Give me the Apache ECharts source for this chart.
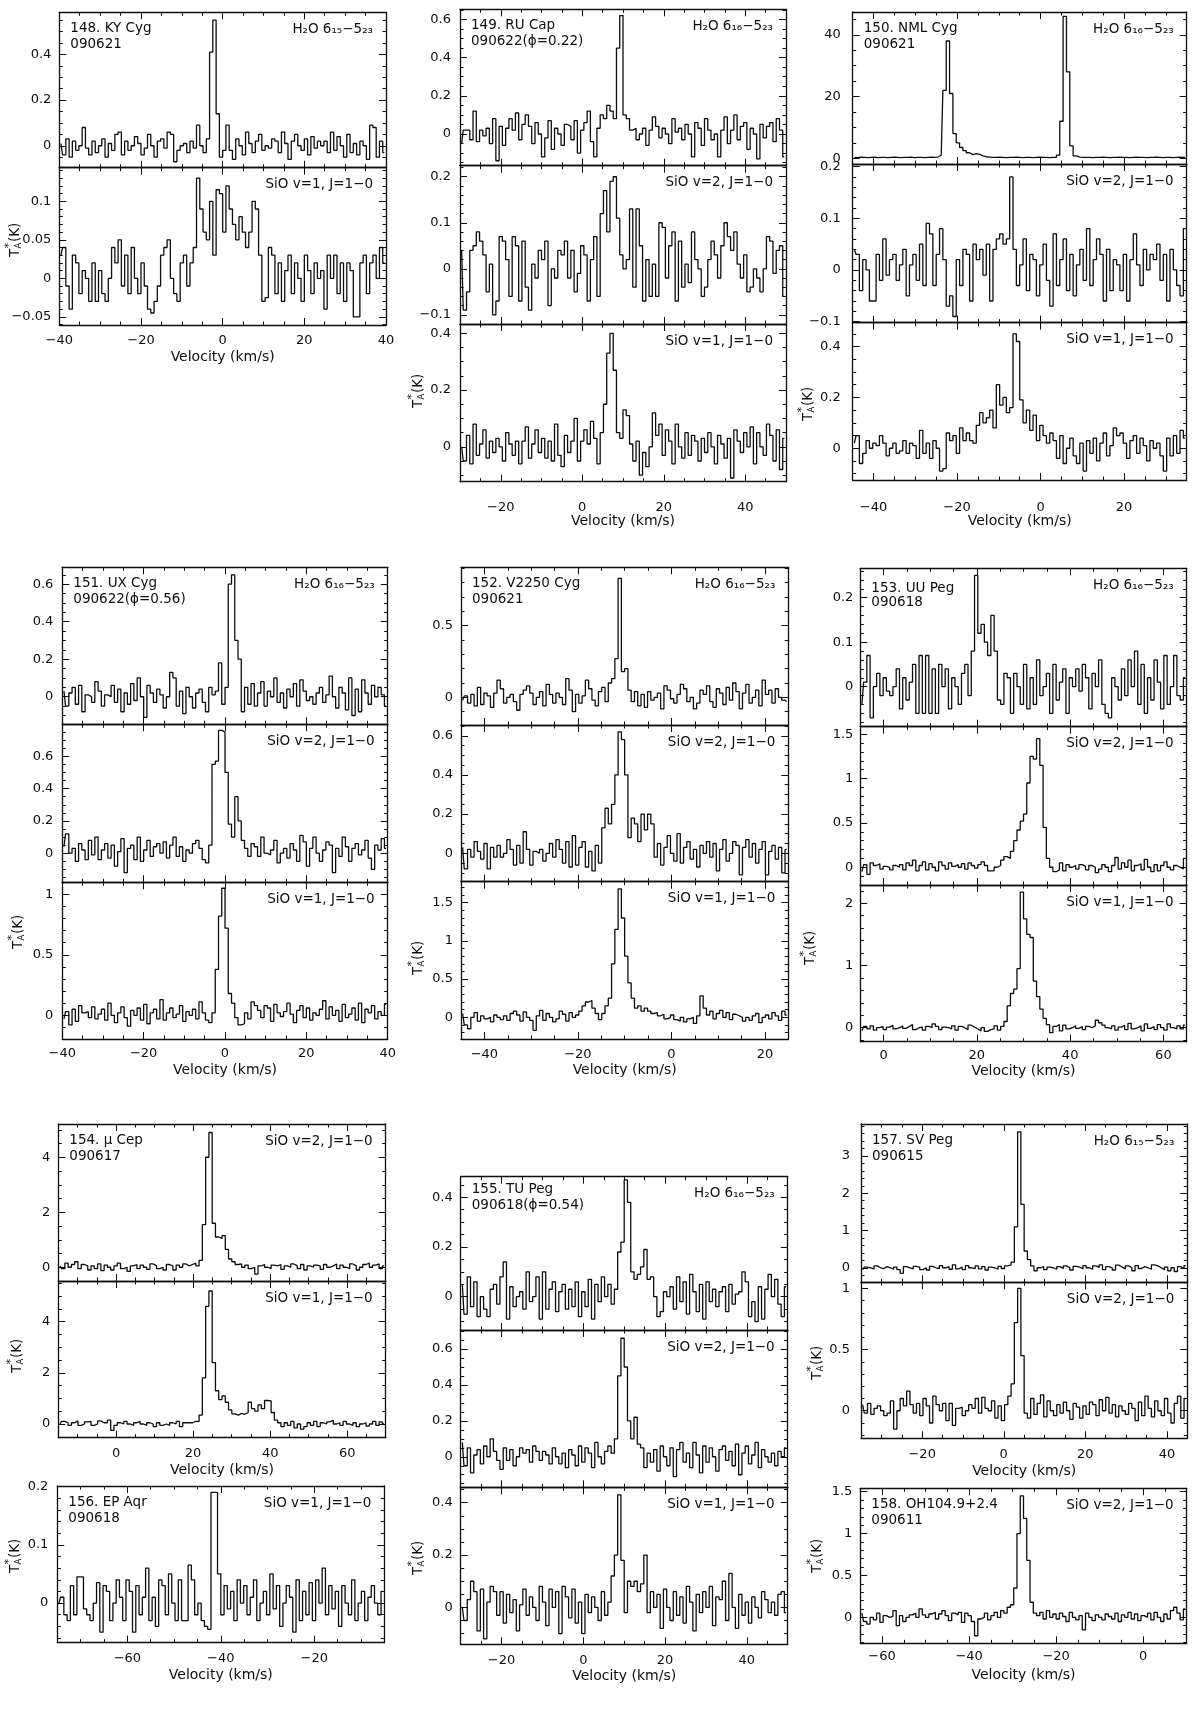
<!DOCTYPE html>
<html><head><meta charset="utf-8">
<script src="https://cdn.jsdelivr.net/npm/echarts@6/dist/echarts.min.js"></script>
<style>html,body{margin:0;padding:0;background:#fff}#c{width:1200px;height:1709px}</style>
</head><body><div id="c"></div>
<script>
// ---------- channel grids: [first channel edge (km/s), channel width (km/s)] ----------
const ch148=[-40,0.8], ch149=[-30,0.8], ch150=[-45,0.8], ch151=[-40,0.8], ch152=[-45,0.7], ch153=[-5,0.7];
const ch154=[-15,0.85], ch155=[-30,0.8], ch156=[-75,0.7], ch157=[-35,0.8], ch158=[-65,0.75];

// ---------- spectra (T_A* in K) ----------
const s148_h2o=[0.01,-0.04,0.03,-0.05,0.02,-0.02,0.00,0.08,-0.01,-0.04,0.02,-0.03,0.00,0.03,-0.05,0.01,-0.02,0.05,0.06,-0.04,0.02,-0.02,0.00,0.04,0.01,-0.04,-0.01,0.05,0.00,-0.05,0.02,0.03,-0.01,0.06,0.05,-0.07,-0.02,0.00,0.01,-0.03,0.02,-0.01,0.09,0.00,-0.03,0.03,0.41,0.55,0.14,-0.05,-0.02,0.09,-0.02,-0.06,0.03,0.00,-0.04,0.06,0.01,-0.03,0.02,0.05,-0.02,0.00,-0.01,0.03,0.02,-0.03,0.06,0.01,-0.06,0.02,0.05,0.00,-0.02,0.03,-0.04,0.04,-0.01,0.02,0.00,0.02,-0.03,0.06,-0.02,0.04,0.00,-0.05,0.05,-0.03,0.01,-0.04,0.02,0.00,-0.06,0.09,0.08,-0.05,0.02,-0.03];
const s148_v1=[0.03,0.04,-0.01,-0.04,0.03,0.02,-0.02,0.01,0.00,-0.03,0.02,-0.03,0.01,-0.02,-0.03,0.00,0.04,0.02,0.05,-0.01,0.03,-0.02,0.04,0.00,-0.02,0.02,-0.01,-0.04,-0.045,-0.03,-0.01,0.03,0.04,0.05,0.00,-0.02,-0.03,0.02,0.03,-0.01,0.02,0.04,0.13,0.09,0.06,0.05,0.10,0.03,0.115,0.11,0.06,0.12,0.09,0.07,0.05,0.08,0.06,0.04,0.06,0.10,0.09,0.03,-0.03,-0.025,0.04,0.03,-0.02,0.02,-0.03,0.01,0.03,-0.02,0.02,0.00,-0.03,0.03,0.01,-0.02,0.02,0.00,0.01,-0.04,0.03,0.00,0.03,-0.02,0.02,-0.03,0.02,0.01,-0.05,-0.05,0.02,0.03,-0.02,0.02,0.03,0.00,0.04,0.02];
const s149_h2o=[-0.05,0.02,0.02,-0.03,0.12,-0.04,0.02,-0.01,0.03,-0.05,0.08,-0.14,0.04,-0.06,0.03,0.08,0.02,0.11,-0.03,0.05,0.10,0.04,-0.05,0.06,0.00,-0.12,-0.02,0.07,-0.08,0.03,0.00,-0.06,0.05,0.04,-0.03,0.07,-0.10,0.02,0.06,0.12,-0.04,-0.12,0.03,0.10,0.08,0.15,0.12,0.08,0.45,0.62,0.10,0.08,0.02,0.03,-0.03,0.00,0.03,-0.06,0.02,0.09,0.04,-0.02,0.03,0.00,-0.05,0.08,0.01,0.03,-0.03,0.05,0.00,-0.12,0.06,0.03,-0.06,0.08,0.02,-0.03,0.00,-0.12,0.02,0.09,-0.05,0.02,0.10,-0.03,0.04,0.06,-0.08,0.03,0.00,-0.13,0.05,-0.02,0.04,0.06,-0.04,0.08,0.02,-0.12];
const s149_v2=[0.04,-0.09,-0.05,0.04,0.05,0.08,0.06,0.03,-0.05,0.01,-0.10,-0.07,0.07,0.06,0.02,-0.06,0.07,0.05,-0.07,0.06,-0.04,-0.09,0.01,-0.02,0.04,0.02,0.06,-0.08,0.00,-0.02,0.04,0.03,0.06,-0.02,0.04,-0.05,-0.01,0.05,0.03,-0.07,0.02,0.07,-0.06,0.12,0.17,0.08,0.19,0.20,0.11,0.03,0.00,0.02,0.13,-0.04,0.13,0.05,-0.07,0.02,-0.06,0.01,-0.06,0.10,0.09,-0.02,0.05,0.08,-0.07,0.06,-0.04,0.01,-0.03,0.08,0.02,0.00,-0.06,-0.04,0.02,0.06,0.03,-0.02,0.05,0.10,0.07,0.04,0.08,0.01,-0.02,0.03,-0.05,-0.04,0.00,-0.02,-0.05,0.00,0.07,0.06,-0.01,0.04,0.05,-0.06];
const s149_v1=[0.00,-0.05,0.04,-0.06,0.08,-0.03,0.01,0.06,-0.04,0.02,-0.02,0.03,0.00,-0.05,0.05,0.01,-0.03,0.02,-0.06,0.02,0.07,-0.04,0.01,0.06,-0.02,0.03,-0.04,0.02,-0.05,0.08,-0.03,-0.07,0.04,-0.02,0.02,0.10,-0.05,0.02,0.06,0.01,0.09,0.03,-0.06,0.05,0.15,0.33,0.40,0.27,0.05,0.03,0.13,0.11,0.01,-0.05,0.02,-0.10,-0.02,-0.07,0.00,0.12,0.04,0.08,-0.03,0.06,0.02,-0.06,0.08,0.00,-0.04,0.05,-0.03,0.04,0.02,-0.05,0.03,-0.02,0.05,0.00,-0.06,0.04,0.01,-0.04,0.03,-0.11,0.06,0.02,-0.02,0.05,0.00,0.07,-0.06,0.05,0.00,-0.03,0.08,0.04,-0.05,0.06,-0.08,0.03];
const s150_h2o=[0.3,0.2,0.4,0.3,0.2,0.3,0.4,0.2,0.3,0.3,0.2,0.3,0.4,0.3,0.2,0.3,0.3,0.4,0.2,0.3,0.3,0.2,0.3,0.4,0.3,0.4,1.0,22,38,21,8,5,3.5,2.5,1.8,1.2,1.5,1.3,0.8,0.5,0.4,0.3,0.3,0.4,0.3,0.2,0.3,0.3,0.4,0.3,0.2,0.3,0.3,0.2,0.3,0.4,0.3,0.3,0.2,0.3,0.3,1.0,12,46,28,4,0.8,0.4,0.3,0.3,0.3,0.2,0.3,0.3,0.4,0.3,0.2,0.3,0.3,0.4,0.3,0.3,0.2,0.3,0.4,0.3,0.3,0.2,0.3,0.3,0.4,0.3,0.2,0.3,0.3,0.2,0.3,0.4,0.3,0.3];
const s150_v2=[0.04,0.03,-0.04,0.02,0.00,-0.06,-0.06,0.03,-0.02,0.06,-0.01,0.02,0.03,-0.02,0.01,0.04,-0.05,0.01,0.03,-0.02,0.05,-0.03,0.09,0.07,-0.03,0.03,0.08,0.02,-0.07,-0.05,-0.09,0.02,-0.03,0.04,0.03,-0.06,0.05,0.02,0.04,-0.01,0.05,-0.06,0.04,0.06,0.07,0.05,0.06,0.18,0.04,-0.03,0.01,0.06,-0.04,0.03,0.02,-0.05,0.01,0.05,-0.02,-0.07,0.07,-0.03,0.02,0.06,-0.04,0.03,-0.05,0.01,0.04,-0.02,0.08,-0.03,0.02,0.06,0.03,-0.06,0.04,-0.04,0.02,0.01,-0.04,0.03,-0.06,0.02,0.07,0.01,-0.03,0.04,0.00,0.03,0.02,0.05,-0.02,0.03,-0.06,0.04,0.00,-0.03,-0.05,0.08];
const s150_v1=[0.02,0.05,-0.06,-0.02,0.03,0.00,0.02,0.01,0.05,0.02,-0.03,0.00,0.02,-0.02,-0.01,0.03,-0.02,0.02,0.01,-0.04,0.07,-0.02,0.02,-0.04,0.03,0.00,-0.09,-0.08,0.06,0.03,0.05,-0.02,0.08,0.03,0.06,0.03,0.02,0.09,0.14,0.10,0.12,0.15,0.08,0.25,0.17,0.20,0.14,0.16,0.45,0.42,0.19,0.10,0.15,0.07,0.13,0.03,0.09,0.05,0.02,0.06,0.03,-0.04,0.05,-0.06,0.00,0.04,-0.03,-0.06,0.02,-0.09,0.03,-0.02,0.04,-0.05,0.02,0.06,-0.03,0.01,0.08,0.05,0.06,0.02,-0.04,0.03,0.05,-0.02,0.04,0.01,-0.05,0.03,0.00,0.02,-0.03,-0.09,0.04,-0.03,0.05,-0.02,0.07,0.04];
const s151_h2o=[0.03,-0.05,0.02,0.05,-0.04,0.06,-0.08,0.01,0.00,-0.03,0.08,0.03,-0.05,0.01,0.00,0.06,-0.03,0.04,-0.08,0.02,-0.04,0.07,-0.02,0.10,0.00,-0.11,0.06,0.02,-0.03,0.04,0.01,-0.06,0.00,0.13,0.10,-0.05,0.03,-0.09,0.05,0.00,-0.06,0.02,0.04,-0.03,-0.08,0.05,0.01,0.03,0.18,-0.04,0.05,0.60,0.65,0.30,0.20,-0.08,0.05,-0.04,0.07,-0.05,0.02,0.08,-0.05,0.03,0.00,0.10,-0.03,0.02,-0.06,0.04,0.00,0.07,-0.05,0.09,0.03,-0.02,0.00,-0.04,0.02,0.05,-0.03,0.01,0.11,0.00,-0.06,0.05,0.02,-0.07,0.10,-0.10,0.04,-0.08,0.09,0.02,-0.04,0.06,0.00,0.05,0.01,-0.05];
const s151_v2=[0.04,0.12,0.00,0.03,-0.05,0.06,0.02,-0.04,0.08,-0.01,0.10,-0.04,0.02,0.06,-0.03,0.05,-0.08,0.01,0.09,-0.12,0.03,0.05,-0.04,0.10,-0.05,0.02,0.08,-0.02,0.04,0.06,0.00,0.07,-0.03,0.05,0.10,-0.02,0.04,-0.05,0.02,0.00,0.06,0.08,0.03,-0.04,-0.06,0.05,0.55,0.57,0.76,0.75,0.50,0.18,0.10,0.35,0.20,0.08,0.03,-0.02,0.06,0.04,-0.02,0.10,0.00,-0.01,0.02,0.08,-0.06,0.00,0.03,-0.03,0.06,0.02,-0.05,0.11,0.07,-0.08,0.03,0.10,0.00,-0.05,0.02,0.07,0.05,-0.12,0.03,-0.02,0.10,0.04,-0.05,0.03,0.06,-0.01,0.02,0.08,-0.03,-0.10,0.05,0.02,0.09,0.03];
const s151_v1=[-0.03,0.03,-0.08,0.05,-0.05,0.08,0.02,0.03,-0.02,0.07,-0.03,0.01,0.05,-0.04,0.10,0.00,-0.06,0.02,0.07,-0.02,-0.09,0.04,0.00,0.06,-0.04,0.09,-0.07,0.02,0.05,-0.03,0.13,-0.04,0.02,0.06,-0.02,0.01,0.08,-0.05,0.03,0.00,0.05,-0.03,0.11,0.02,-0.04,-0.06,0.02,0.38,0.82,1.05,0.72,0.18,0.10,-0.02,-0.08,-0.07,0.02,-0.03,0.11,0.08,0.04,-0.02,0.08,0.06,-0.05,0.09,0.02,-0.01,0.03,0.10,0.01,-0.06,0.04,0.08,-0.02,0.06,-0.04,0.02,0.00,0.05,0.12,-0.03,0.07,0.00,0.04,-0.05,0.09,-0.02,0.01,0.06,-0.04,0.10,-0.06,0.05,0.02,0.08,-0.03,0.03,0.00,0.09];
const s152_h2o=[-0.02,0.01,-0.04,0.02,-0.06,0.07,-0.05,0.03,0.01,-0.07,0.03,0.12,0.06,-0.04,0.00,0.02,-0.03,-0.09,0.02,0.05,0.08,0.03,-0.05,0.00,0.04,-0.06,0.09,0.02,-0.04,0.03,0.00,-0.05,0.13,0.05,-0.10,0.02,-0.04,0.01,0.12,0.06,-0.02,-0.06,0.04,0.07,-0.03,0.10,0.13,0.27,0.83,0.18,0.20,0.05,-0.03,0.04,-0.06,0.02,-0.07,0.04,-0.02,0.00,0.03,-0.08,0.08,0.05,-0.01,-0.04,0.02,0.09,0.06,-0.03,0.00,-0.08,-0.04,0.05,0.02,0.08,-0.03,-0.07,0.06,0.03,-0.05,0.07,-0.02,0.10,0.04,-0.08,0.03,0.09,-0.04,0.00,0.05,-0.06,0.12,0.02,0.05,-0.04,0.06,0.00,-0.02,-0.03];
const s152_v2=[0.03,-0.08,0.02,-0.02,0.06,0.01,-0.03,0.05,-0.08,0.03,-0.02,0.04,-0.02,0.00,0.07,0.02,-0.06,0.04,-0.05,0.11,0.02,-0.06,0.01,0.00,0.02,-0.04,0.00,0.05,-0.02,0.07,0.02,-0.05,0.06,-0.07,0.09,-0.06,0.03,0.06,-0.07,0.01,-0.09,0.04,-0.05,0.13,0.23,0.15,0.25,0.40,0.62,0.58,0.40,0.08,0.18,0.15,0.06,0.20,0.12,0.20,0.15,-0.02,0.05,-0.06,0.03,0.09,0.00,-0.04,0.10,-0.05,0.03,0.06,-0.03,0.02,-0.07,0.04,0.00,0.06,-0.02,0.05,-0.09,0.02,0.07,-0.04,0.00,0.06,0.04,-0.11,0.03,0.07,-0.02,0.05,-0.05,0.02,0.06,-0.11,0.01,0.04,-0.03,0.03,-0.10,0.02];
const s152_v1=[0.05,-0.10,-0.15,0.00,0.06,-0.05,0.02,-0.02,0.00,-0.06,0.03,0.00,-0.03,0.02,-0.04,0.05,0.08,0.03,-0.05,0.07,0.00,-0.04,-0.17,0.02,0.09,-0.04,0.05,0.00,-0.06,-0.02,0.08,0.04,-0.05,0.06,0.00,0.03,0.08,0.15,0.20,0.22,0.12,0.05,-0.03,0.05,0.15,0.25,0.70,1.15,1.68,1.30,0.80,0.45,0.25,0.12,0.15,0.08,0.12,0.08,0.05,0.06,0.02,0.04,-0.02,0.00,0.03,-0.03,-0.05,0.00,-0.06,-0.02,0.00,-0.08,0.02,0.28,0.12,0.03,0.08,-0.02,0.05,0.09,0.00,0.06,-0.03,0.04,0.02,0.00,-0.05,0.00,-0.04,0.02,0.05,-0.07,0.00,0.03,-0.02,0.06,0.02,-0.04,0.08,0.03];
const s153_h2o=[-0.04,0.01,0.07,-0.07,0.00,0.03,-0.02,0.02,-0.01,-0.02,0.00,0.04,-0.05,0.02,-0.03,0.01,0.05,-0.06,0.07,-0.06,0.07,-0.06,0.04,-0.06,0.05,0.00,0.04,-0.05,0.02,0.00,-0.04,0.03,0.05,-0.02,0.08,0.25,0.12,0.14,0.10,0.07,0.16,0.08,-0.03,-0.04,0.03,0.02,-0.06,0.03,0.00,-0.04,0.05,-0.05,0.02,-0.04,0.06,-0.02,0.00,0.03,-0.06,0.05,-0.03,0.01,0.04,-0.06,0.02,0.00,0.04,-0.01,0.05,0.02,-0.05,0.03,0.00,0.06,-0.04,-0.06,-0.07,0.02,0.00,-0.03,0.04,-0.02,0.06,0.00,0.08,-0.04,0.05,-0.06,0.02,-0.03,0.06,0.01,-0.05,0.07,-0.04,0.00,0.07,-0.02,-0.03,0.02];
const s153_v2=[-0.05,0.03,-0.08,0.05,0.02,0.04,-0.02,0.01,0.00,-0.03,0.02,0.00,0.03,-0.03,0.05,0.02,0.08,-0.04,0.02,0.06,-0.03,0.04,0.00,-0.04,0.06,0.02,-0.02,0.05,0.01,0.03,0.00,0.04,-0.02,0.05,0.02,-0.01,0.03,0.06,0.02,-0.04,-0.04,0.00,0.02,0.08,0.12,0.10,0.18,0.30,0.42,0.52,0.60,0.95,1.25,1.22,1.45,1.15,0.45,0.10,0.00,-0.05,-0.03,0.05,-0.04,0.03,0.00,0.02,-0.02,0.03,0.01,-0.03,0.02,0.00,-0.06,-0.02,0.03,0.00,-0.05,0.02,0.11,-0.02,0.05,0.00,0.08,-0.04,0.02,0.04,-0.03,0.09,0.00,-0.05,0.03,-0.04,0.02,0.06,0.00,-0.03,0.02,0.00,-0.02,0.10];
const s153_v1=[-0.05,0.02,-0.02,0.03,-0.04,0.00,0.02,-0.03,0.01,0.04,-0.02,0.00,0.03,-0.01,0.02,0.05,-0.03,0.00,0.01,-0.04,0.02,0.00,0.06,0.02,-0.03,0.01,0.00,-0.02,0.03,-0.04,0.02,0.00,-0.03,0.04,0.01,-0.02,-0.05,0.00,-0.06,-0.03,-0.02,0.03,-0.04,0.02,0.10,0.35,0.55,0.62,0.95,2.18,1.75,1.50,1.45,0.75,0.50,0.30,0.15,0.05,-0.08,0.02,0.05,-0.05,0.04,-0.02,0.00,0.03,-0.01,0.02,-0.03,0.02,0.00,0.03,0.12,0.08,0.04,0.00,-0.02,0.03,-0.04,0.01,0.04,-0.03,0.07,-0.02,0.00,0.03,-0.05,0.06,-0.01,0.02,-0.03,0.05,0.00,-0.04,0.06,0.00,-0.02,0.03,-0.02,0.04];
const s154_v2=[0.05,-0.05,0.15,0.00,0.10,0.20,-0.05,0.10,0.05,-0.10,0.05,-0.05,0.12,-0.12,0.08,0.00,-0.10,0.05,0.15,-0.05,0.00,-0.15,0.05,0.10,-0.05,0.08,0.00,-0.08,0.12,0.05,-0.05,0.00,-0.10,0.10,0.05,-0.10,0.08,0.00,0.12,0.05,0.10,0.15,0.05,0.25,1.55,4.00,4.90,1.60,1.10,1.05,1.15,0.65,0.30,0.20,0.10,0.12,0.00,0.08,-0.05,0.00,-0.25,0.05,0.10,0.00,-0.05,0.08,0.05,0.10,-0.08,0.05,0.00,0.12,0.05,-0.05,0.10,-0.10,0.05,0.00,0.08,0.05,-0.08,0.10,0.00,0.05,0.12,-0.05,0.08,0.00,-0.05,0.12,0.05,-0.10,0.00,0.10,0.15,0.00,0.08,0.12,-0.05,0.05];
const s154_v1=[0.00,0.10,0.05,-0.05,0.05,0.12,-0.05,0.00,0.08,0.10,-0.05,0.00,0.12,0.05,0.05,0.15,-0.25,-0.05,0.05,0.00,0.10,0.00,-0.05,0.05,0.10,0.00,-0.05,0.05,0.00,-0.10,0.05,-0.05,0.00,-0.05,0.05,0.00,0.10,-0.10,0.05,0.05,0.05,0.10,0.10,0.35,1.80,4.60,5.20,2.40,1.30,0.95,1.10,0.85,0.55,0.40,0.35,0.42,0.38,0.45,0.85,0.60,0.50,0.75,0.60,0.92,0.90,0.45,0.15,0.05,-0.10,0.05,-0.05,0.10,-0.15,0.00,-0.20,-0.10,0.05,-0.05,0.10,-0.10,0.05,0.00,0.08,0.15,0.00,0.05,-0.05,0.10,0.00,-0.05,0.05,-0.10,0.00,0.05,-0.08,0.00,0.10,-0.05,0.08,0.00];
const s155_h2o=[0.05,-0.07,0.08,-0.04,0.06,-0.08,0.00,-0.05,-0.08,0.03,0.05,-0.03,0.08,0.14,-0.09,0.04,-0.04,0.00,0.02,-0.05,0.10,-0.02,0.00,0.08,-0.09,0.10,-0.05,0.03,0.06,-0.06,0.02,0.05,-0.05,0.03,-0.04,0.06,-0.08,0.02,-0.04,0.07,-0.09,0.05,-0.02,0.08,0.00,0.05,-0.03,0.03,0.18,0.22,0.47,0.38,0.10,0.07,0.09,0.12,0.19,0.07,0.08,0.00,-0.08,-0.06,0.02,0.00,0.04,-0.05,0.08,-0.02,0.06,-0.07,0.09,0.02,-0.06,0.05,-0.09,0.06,-0.02,0.03,-0.04,0.02,0.04,-0.06,0.05,-0.03,0.01,0.02,0.10,0.06,-0.08,-0.02,-0.10,0.04,-0.09,0.03,0.09,0.00,0.07,-0.03,-0.08,0.04];
const s155_v2=[0.08,-0.05,0.05,-0.09,0.01,0.04,-0.04,0.06,0.00,0.10,0.03,-0.02,-0.07,0.05,-0.02,0.04,-0.05,0.00,0.05,0.02,0.04,-0.03,0.06,0.03,-0.02,0.03,0.01,-0.04,0.05,0.00,-0.04,0.02,-0.06,0.04,0.01,-0.05,0.06,-0.03,0.05,0.02,-0.06,0.08,0.00,-0.04,0.03,0.06,0.02,0.10,0.45,0.66,0.50,0.20,0.10,0.22,0.07,0.05,-0.06,0.02,-0.03,0.04,-0.08,0.06,0.00,-0.05,0.05,-0.11,0.04,0.08,-0.03,0.02,-0.06,0.08,0.01,-0.09,0.06,-0.03,0.05,0.00,-0.08,0.04,0.06,-0.02,0.03,-0.05,0.07,-0.10,0.02,0.06,-0.04,0.01,0.08,-0.06,0.04,0.00,-0.03,0.02,-0.05,0.03,0.00,0.05];
const s155_v1=[0.00,-0.05,0.03,0.10,0.06,-0.09,0.07,-0.12,0.02,0.08,0.06,-0.03,0.06,-0.06,0.05,-0.02,0.03,-0.09,0.01,0.07,-0.03,0.04,0.00,-0.05,0.08,0.02,-0.07,0.07,0.00,0.06,-0.10,0.08,0.04,-0.04,0.07,-0.06,0.02,-0.10,0.05,-0.02,0.04,0.00,-0.05,0.06,-0.03,0.02,0.12,0.20,0.43,0.18,-0.02,0.10,0.08,0.10,0.06,0.09,0.20,-0.02,0.06,0.00,0.05,-0.08,0.07,0.00,-0.05,0.06,-0.03,0.04,-0.06,0.08,0.02,-0.09,0.05,-0.02,0.06,0.00,0.08,-0.07,0.04,0.03,0.10,-0.05,0.13,0.00,-0.08,0.05,-0.03,0.02,-0.06,0.04,0.00,-0.04,0.06,0.03,-0.02,0.02,-0.03,0.05,0.06,-0.02];
const s156_v1=[0.00,0.01,-0.02,-0.03,0.03,-0.02,0.045,0.045,-0.01,-0.02,-0.03,0.00,0.035,-0.05,0.03,0.02,-0.03,0.00,0.04,0.01,-0.03,0.04,0.02,-0.05,0.03,-0.02,0.01,0.06,-0.03,0.01,-0.04,0.04,0.03,-0.02,0.05,0.00,-0.03,0.04,-0.03,-0.03,0.065,0.04,-0.02,0.00,-0.03,-0.04,-0.045,0.19,0.19,0.05,-0.02,0.03,-0.01,0.02,-0.03,0.04,0.00,0.03,-0.02,0.01,0.04,-0.03,0.00,0.02,-0.02,0.05,-0.01,0.03,-0.04,0.00,0.03,0.01,-0.05,0.04,-0.03,0.02,-0.02,0.035,-0.03,0.04,0.00,0.06,-0.02,0.03,-0.01,0.02,-0.04,0.03,0.00,-0.02,0.04,-0.03,0.00,0.02,-0.03,0.01,0.03,0.00,-0.02,0.02];
const s157_h2o=[-0.05,0.02,0.00,-0.03,0.05,0.00,-0.02,0.03,0.00,-0.04,0.02,-0.05,-0.15,0.03,0.00,-0.03,0.04,0.02,-0.05,0.00,-0.06,0.04,0.00,-0.02,0.06,0.00,0.03,-0.04,0.08,-0.03,0.02,-0.05,0.06,0.00,-0.02,0.05,-0.03,0.03,-0.06,0.02,0.00,-0.04,0.04,-0.02,0.05,0.08,0.15,1.10,3.65,1.70,0.45,0.22,0.05,-0.08,0.00,0.03,-0.05,0.02,0.00,-0.04,0.03,-0.02,0.05,0.00,-0.06,0.04,0.02,-0.03,0.06,0.00,-0.04,0.05,0.01,0.08,-0.05,0.03,0.00,-0.06,0.07,0.02,-0.03,0.05,0.00,-0.08,0.06,-0.02,0.03,0.00,-0.04,0.08,0.05,0.00,-0.05,0.02,-0.08,0.00,-0.10,0.03,-0.02,0.06];
const s157_v2=[0.05,-0.02,0.06,-0.03,0.02,0.04,0.00,-0.04,-0.02,0.08,-0.15,0.00,0.10,0.04,0.16,0.05,-0.02,0.06,-0.04,0.10,0.04,-0.10,0.12,0.05,0.00,0.06,-0.08,0.06,-0.12,0.02,0.03,-0.04,0.00,0.05,0.02,0.10,-0.02,0.11,0.02,0.00,0.08,-0.06,0.04,-0.08,0.05,0.12,0.22,0.72,1.00,0.45,-0.02,-0.06,0.10,-0.03,0.06,0.13,-0.05,0.08,0.00,-0.04,0.05,-0.02,0.07,0.00,-0.07,0.06,0.03,-0.06,0.04,-0.03,0.07,0.05,-0.04,0.09,0.00,0.11,-0.02,0.05,-0.05,0.04,0.00,-0.03,0.06,0.02,-0.08,0.07,-0.04,0.12,0.02,-0.05,0.08,0.00,-0.04,0.10,-0.02,-0.10,0.06,0.12,-0.06,0.10];
const s158_v2=[0.05,-0.05,-0.08,0.00,-0.03,0.05,-0.06,0.02,0.00,0.01,0.08,-0.10,0.02,-0.05,0.00,0.03,0.05,0.00,0.10,0.03,0.00,0.04,0.06,-0.02,0.04,0.08,0.02,-0.04,0.05,0.03,0.06,-0.06,0.05,0.02,-0.05,-0.22,-0.02,0.00,0.05,-0.03,0.02,0.06,0.00,0.08,0.05,0.12,0.15,0.35,1.00,1.45,1.18,0.68,0.18,0.05,0.02,0.06,-0.02,0.08,0.00,0.04,-0.02,0.05,0.01,-0.05,0.06,0.00,-0.03,0.02,-0.15,0.05,0.00,-0.04,0.03,0.00,-0.03,0.04,0.01,-0.02,0.05,-0.05,0.03,0.00,0.06,-0.02,0.04,-0.04,0.02,0.00,0.05,-0.03,0.06,0.00,-0.05,0.04,-0.02,0.08,0.12,0.05,-0.03,0.10];

// ---------- tick label values (velocity) ----------
const xTicks148=[-40,-20,0,20,40], xTicks149=[-20,0,20,40], xTicks150=[-40,-20,0,20], xTicks151=[-40,-20,0,20,40];
const xTicks152=[-40,-20,0,20], xTicks153=[0,20,40,60], xTicks154=[0,20,40,60], xTicks155=[-20,0,20,40];
const xTicks156=[-60,-40,-20], xTicks157=[-20,0,20,40], xTicks158=[-60,-40,-20,0];

// ---------- layout (pixel geometry and axis windows) ----------
const H2O15='H₂O 6₁₅−5₂₃', H2O16='H₂O 6₁₆−5₂₃', V1='SiO v=1, J=1−0', V2='SiO v=2, J=1−0';
const panels=[
 {name:'148. KY Cyg',date:'090621',box:[59.3,386],xr:[-40,40],xl:xTicks148,ch:ch148,xg:[16.7,32.3],ylm:8,yt:[15,239],
  subs:[{d:s148_h2o,t:12.3,b:167.7,yr:[-0.096,0.584],mj:0.2,mn:0.05,lab:H2O15},
        {d:s148_v1,t:167.7,b:325,yr:[-0.0606,0.1436],mj:0.05,mn:0.01,lab:V1}]},
 {name:'149. RU Cap',date:'090622(ϕ=0.22)',box:[460,786],xr:[-30,50],xl:xTicks149,ch:ch149,xg:[26.6,40],ylm:9,yt:[418,390],
  subs:[{d:s149_h2o,t:9.3,b:165.7,yr:[-0.166,0.653],mj:0.2,mn:0.05,lab:H2O16},
        {d:s149_v2,t:165.7,b:324,yr:[-0.120,0.224],mj:0.1,mn:0.02,lab:V2},
        {d:s149_v1,t:324,b:481.7,yr:[-0.123,0.433],mj:0.2,mn:0.05,lab:V1}]},
 {name:'150. NML Cyg',date:'090621',box:[852.7,1186.7],xr:[-45,35],xl:xTicks150,ch:ch150,xg:[28.3,41.7],ylm:12,yt:[808,403],
  subs:[{d:s150_h2o,t:12,b:164,yr:[-1.85,47.4],mj:20,mn:5,lab:H2O16},
        {d:s150_v2,t:164,b:322.7,yr:[-0.102,0.205],mj:0.1,mn:0.02,lab:V2},
        {d:s150_v1,t:322.7,b:480,yr:[-0.125,0.494],mj:0.2,mn:0.05,lab:V1}]},
 {name:'151. UX Cyg',date:'090622(ϕ=0.56)',box:[62.3,387.7],xr:[-40,40],xl:xTicks151,ch:ch151,xg:[16,31],ylm:9,yt:[18,931],
  subs:[{d:s151_h2o,t:567.3,b:724.3,yr:[-0.147,0.69],mj:0.2,mn:0.05,lab:H2O16},
        {d:s151_v2,t:724.3,b:882.3,yr:[-0.18,0.798],mj:0.2,mn:0.05,lab:V2},
        {d:s151_v1,t:882.3,b:1039,yr:[-0.196,1.099],mj:0.5,mn:0.1,lab:V1}]},
 {name:'152. V2250 Cyg',date:'090621',box:[461,788.3],xr:[-45,25],xl:xTicks152,ch:ch152,xg:[16.7,31],ylm:8,yt:[418,957],
  subs:[{d:s152_h2o,t:567.3,b:725,yr:[-0.193,0.907],mj:0.5,mn:0.1,lab:H2O16},
        {d:s152_v2,t:725,b:881.7,yr:[-0.145,0.655],mj:0.2,mn:0.05,lab:V2},
        {d:s152_v1,t:881.7,b:1039,yr:[-0.284,1.775],mj:0.5,mn:0.1,lab:V1}]},
 {name:'153. UU Peg',date:'090618',box:[860.3,1186.7],xr:[-5,65],xl:xTicks153,ch:ch153,xg:[15,30],ylm:7,yt:[810,947],nl:[20,34],
  subs:[{d:s153_h2o,t:568.3,b:726.7,yr:[-0.09,0.266],mj:0.1,mn:0.02,lab:H2O16},
        {d:s153_v2,t:726.7,b:885,yr:[-0.2,1.585],mj:0.5,mn:0.1,lab:V2},
        {d:s153_v1,t:885,b:1041.7,yr:[-0.225,2.294],mj:1,mn:0.2,lab:V1}]},
 {name:'154. μ Cep',date:'090617',box:[58.3,385.7],xr:[-15,70],xl:xTicks154,ch:ch154,xg:[17.3,32.3],ylm:8,yt:[17,1355],
  subs:[{d:s154_v2,t:1124,b:1281,yr:[-0.5,5.21],mj:2,mn:0.5,lab:V2},
        {d:s154_v1,t:1281,b:1437.7,yr:[-0.535,5.59],mj:2,mn:0.5,lab:V1}]},
 {name:'155. TU Peg',date:'090618(ϕ=0.54)',box:[460.7,787.7],xr:[-30,50],xl:xTicks155,ch:ch155,xg:[17.4,32.4],ylm:8,yt:[418,1557],nl:[12.5,28.5],
  subs:[{d:s155_h2o,t:1176.7,b:1330,yr:[-0.134,0.483],mj:0.2,mn:0.05,lab:H2O16},
        {d:s155_v2,t:1330,b:1487.3,yr:[-0.17,0.706],mj:0.2,mn:0.05,lab:V2},
        {d:s155_v1,t:1487.3,b:1644.3,yr:[-0.141,0.459],mj:0.2,mn:0.05,lab:V1}]},
 {name:'156. EP Aqr',date:'090618',box:[57.3,384.3],xr:[-75,-5],xl:xTicks156,ch:ch156,xg:[16.6,32.3],ylm:9,yt:[15,1555],
  subs:[{d:s156_v1,t:1486,b:1642.7,yr:[-0.068,0.201],mj:0.1,mn:0.02,lab:V1}]},
 {name:'157. SV Peg',date:'090615',box:[861,1187.3],xr:[-35,45],xl:xTicks157,ch:ch157,xg:[17.7,33.4],ylm:11,yt:[817,1362],
  subs:[{d:s157_h2o,t:1124,b:1282.3,yr:[-0.39,3.86],mj:1,mn:0.2,lab:H2O15},
        {d:s157_v2,t:1282.3,b:1438.3,yr:[-0.225,1.049],mj:0.5,mn:0.1,lab:V2}]},
 {name:'158. OH104.9+2.4',date:'090611',box:[860.3,1186.7],xr:[-65,10],xl:xTicks158,ch:ch158,xg:[14.7,31.7],ylm:8,yt:[817,1555],
  subs:[{d:s158_v2,t:1488.3,b:1643.3,yr:[-0.31,1.54],mj:0.5,mn:0.1,lab:V2}]}
];

// ---------- build ----------
const FONT='"DejaVu Sans", "Liberation Sans", sans-serif';
const INK='#0d0d0d';
const FS_TICK=13, FS_LAB=13.5, FS_VEL=14;
function mkTicks(min,max,step){const o=[];const k0=Math.ceil(min/step-1e-9),k1=Math.floor(max/step+1e-9);for(let k=k0;k<=k1;k++)o.push(+(k*step).toFixed(6));return o;}
function fmt(v){const s=String(+(+v).toFixed(6));return s.charAt(0)==='-'?'−'+s.slice(1):s;}
function axis(dim,pos,gi,range,ticks,len,line,labels,margin){
  return {type:'value',gridIndex:gi,position:pos,min:range[0],max:range[1],
    axisLine:{show:line,onZero:false,lineStyle:{color:INK,width:1.3}},
    axisTick:{show:true,inside:true,length:len,customValues:ticks,lineStyle:{color:INK,width:1}},
    axisLabel:{show:!!labels,customValues:labels||[],formatter:fmt,fontFamily:FONT,fontSize:FS_TICK,color:INK,margin:margin||8},
    splitLine:{show:false},minorTick:{show:false},minorSplitLine:{show:false},silent:true};
}
const grids=[],xAxes=[],yAxes=[],series=[],graphics=[];
panels.forEach(p=>{
  const w=p.box[1]-p.box[0];
  const xMaj=mkTicks(p.xr[0],p.xr[1],20), xMin=mkTicks(p.xr[0],p.xr[1],5);
  p.subs.forEach((s,si)=>{
    const last=si===p.subs.length-1;
    const gi=grids.length;
    grids.push({left:p.box[0],top:s.t,width:w,height:s.b-s.t,containLabel:false,outerBoundsMode:'none',show:false});
    const yMaj=mkTicks(s.yr[0],s.yr[1],s.mj), yMin=mkTicks(s.yr[0],s.yr[1],s.mn);
    const xi=xAxes.length, yi=yAxes.length;
    xAxes.push(axis('x','bottom',gi,p.xr,xMaj,7,true,last?p.xl:null,p.xg[0]-7.5));
    xAxes.push(axis('x','bottom',gi,p.xr,xMin,3.5,false,null));
    xAxes.push(axis('x','top',gi,p.xr,xMaj,7,true,null));
    xAxes.push(axis('x','top',gi,p.xr,xMin,3.5,false,null));
    yAxes.push(axis('y','left',gi,s.yr,yMaj,7,true,yMaj,p.ylm));
    yAxes.push(axis('y','left',gi,s.yr,yMin,3.5,false,null));
    yAxes.push(axis('y','right',gi,s.yr,yMaj,7,true,null));
    yAxes.push(axis('y','right',gi,s.yr,yMin,3.5,false,null));
    series.push({type:'line',xAxisIndex:xi,yAxisIndex:yi,step:'middle',symbol:'none',showSymbol:false,
      data:s.d.map((y,i)=>[p.ch[0]+(i+0.5)*p.ch[1],y]),
      lineStyle:{color:INK,width:1.3},clip:true,animation:false,silent:true});
    graphics.push({type:'text',x:p.box[1]-13,y:s.t+17,z:10,silent:true,
      style:{text:s.lab,fontFamily:FONT,fontSize:FS_LAB,fill:INK,align:'right',verticalAlign:'middle'}});
  });
  const nl=p.nl||[16,32];
  const top=p.subs[0].t, bot=p.subs[p.subs.length-1].b;
  graphics.push({type:'text',x:p.box[0]+11,y:top+nl[0],z:10,silent:true,
    style:{text:p.name,fontFamily:FONT,fontSize:FS_LAB,fill:INK,align:'left',verticalAlign:'middle'}});
  graphics.push({type:'text',x:p.box[0]+11,y:top+nl[1],z:10,silent:true,
    style:{text:p.date,fontFamily:FONT,fontSize:FS_LAB,fill:INK,align:'left',verticalAlign:'middle'}});
  graphics.push({type:'text',x:p.box[0]+w/2,y:bot+p.xg[1],z:10,silent:true,
    style:{text:'Velocity (km/s)',fontFamily:FONT,fontSize:FS_VEL,fill:INK,align:'center',verticalAlign:'middle'}});
  graphics.push({type:'group',x:p.yt[0],y:p.yt[1],rotation:Math.PI/2,silent:true,children:[
    {type:'text',x:-18,y:0,style:{text:'T',fontFamily:FONT,fontSize:13.5,fill:INK,align:'left',verticalAlign:'middle'}},
    {type:'text',x:-9.5,y:4,style:{text:'A',fontFamily:FONT,fontSize:8.5,fill:INK,align:'left',verticalAlign:'middle'}},
    {type:'text',x:-9.5,y:-6,style:{text:'*',fontFamily:FONT,fontSize:11,fill:INK,align:'left',verticalAlign:'middle'}},
    {type:'text',x:-3,y:0,style:{text:'(K)',fontFamily:FONT,fontSize:13.5,fill:INK,align:'left',verticalAlign:'middle'}}
  ]});
});
const chart=echarts.init(document.getElementById('c'),null,{renderer:'canvas',width:1200,height:1709});
chart.setOption({animation:false,backgroundColor:'#fff',grid:grids,xAxis:xAxes,yAxis:yAxes,series:series,graphic:graphics});
</script></body></html>
